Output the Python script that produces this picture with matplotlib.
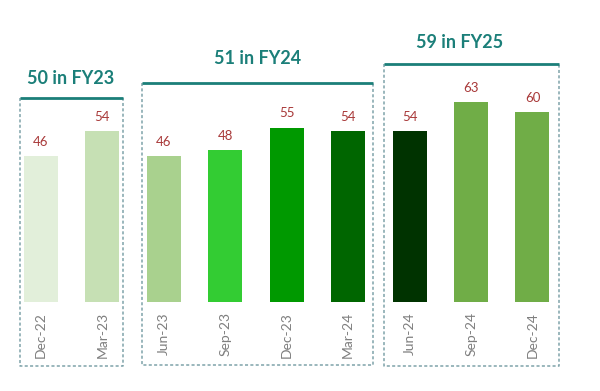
import matplotlib

matplotlib.use("Agg")
import matplotlib.pyplot as plt

# %% Data

quarters = ["Dec-22", "Mar-23", "Jun-23", "Sep-23", "Dec-23", "Mar-24", "Jun-24", "Sep-24", "Dec-24"]
values = [46, 54, 46, 48, 55, 54, 54, 63, 60]
bar_colors = ["#E2EFDA", "#C6E0B4", "#A9D18E", "#33CC33", "#009900", "#006600", "#003300", "#70AD47", "#70AD47"]

group_titles = ["50 in FY23", "51 in FY24", "59 in FY25"]

# %% Layout (box extents in bar-index / value units)

boxes = [
    # x0, x1, y_bottom, y_top, title_x, title_y
    (-0.34, 1.335, -20.2, 64.4, 0.49, 70.4),
    (1.644, 5.404, -20.0, 69.1, 3.52, 76.7),
    (5.583, 8.431, -20.2, 75.1, 6.82, 81.8),
]

TEAL = "#1B7F79"
DOT = "#7FA3AA"
plt.rcParams["font.family"] = ["Lato", "DejaVu Sans"]

fig = plt.figure(figsize=(6, 3.91), dpi=100)
ax = fig.add_axes([10.3 / 600, 0, 552.9 / 600, 1])
ax.set_xlim(-0.5, 8.5)
ax.set_ylim(-28.08, 95.27)
ax.axis("off")

x = list(range(len(quarters)))
ax.bar(x, values, width=0.553, color=bar_colors, zorder=2)

for xi, v in zip(x, values):
    ax.text(xi, v + 4.5, str(v), ha="center", va="center", fontsize=9.5, color="#A83838")
    ax.text(xi, -3.2, quarters[xi], ha="center", va="top", rotation=90,
            fontsize=10, color="#7F7F7F")

for (x0, x1, yb, yt, tx, ty), title in zip(boxes, group_titles):
    # dotted sides and bottom
    ax.plot([x0, x0, x1, x1], [yt, yb, yb, yt], ls=(0, (2, 1.5)), lw=1.1, color=DOT, zorder=1)
    # solid top edge
    ax.plot([x0, x1], [yt, yt], lw=2, color=TEAL, zorder=3, solid_capstyle="butt")
    ax.text(tx, ty, title, ha="center", va="center", fontsize=13, fontweight="bold", color=TEAL)

fig.savefig("out.png", dpi=100)
